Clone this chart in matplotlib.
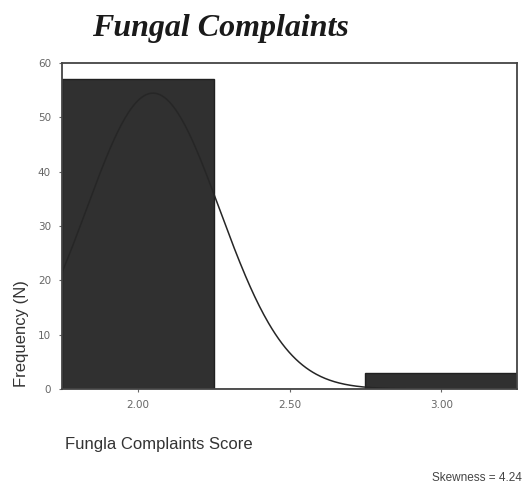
import matplotlib
matplotlib.use("Agg")
import matplotlib.pyplot as plt
import numpy as np

# histogram of the scores (bin edges and counts)
bin_edges = [1.75, 2.25, 2.75, 3.25]
counts = [57, 0, 3]
score_values = [2.0, 2.5, 3.0]
skew_text = "Skewness = 4.24"

x_ticks = [2.0, 2.5, 3.0]
x_ticklabels = ["2.00", "2.50", "3.00"]
y_ticks = [0, 10, 20, 30, 40, 50, 60]

# fitted normal curve from the raw scores
raw = np.repeat(score_values, counts)
mu = raw.mean()
sd = raw.std(ddof=1)
width = bin_edges[1] - bin_edges[0]
xs = np.linspace(bin_edges[0], bin_edges[-1], 400)
ys = len(raw) * width / (sd * np.sqrt(2 * np.pi)) * np.exp(-0.5 * ((xs - mu) / sd) ** 2)

fig = plt.figure(figsize=(5.29, 4.90), dpi=100)
ax = fig.add_axes([62 / 529, 1 - 389 / 490, 455 / 529, 326 / 490])

ax.bar(bin_edges[:-1], counts, width=width, align="edge",
       color="#303030", edgecolor="#202020", linewidth=1)
ax.plot(xs, ys, color="#262626", linewidth=1.1)

ax.set_xlim(bin_edges[0], bin_edges[-1])
ax.set_ylim(0, 60)
ax.set_xticks(x_ticks)
ax.set_xticklabels(x_ticklabels)
ax.set_yticks(y_ticks)
ax.tick_params(labelsize=7.5, colors="#666666", length=2, width=0.8, pad=6)
for s in ax.spines.values():
    s.set_color("#444444")
    s.set_linewidth(1.3)

fig.text(0.416, 0.941, "Fungal Complaints", family="Liberation Serif",
         weight="bold", style="italic", fontsize=23, ha="center", va="center",
         color="#1a1a1a")
fig.text(22 / 529, 1 - 334 / 490, "Frequency (N)", family="Liberation Sans",
         fontsize=12, color="#333333", rotation=90, ha="center", va="center")
fig.text(65 / 529, 1 - 444 / 490, "Fungla Complaints Score", family="Liberation Sans",
         fontsize=12, color="#333333", ha="left", va="center")
fig.text(522 / 529, 1 - 478 / 490, skew_text, family="Liberation Sans",
         fontsize=8.5, color="#444444", ha="right", va="center")

fig.savefig("out.png", dpi=100)
